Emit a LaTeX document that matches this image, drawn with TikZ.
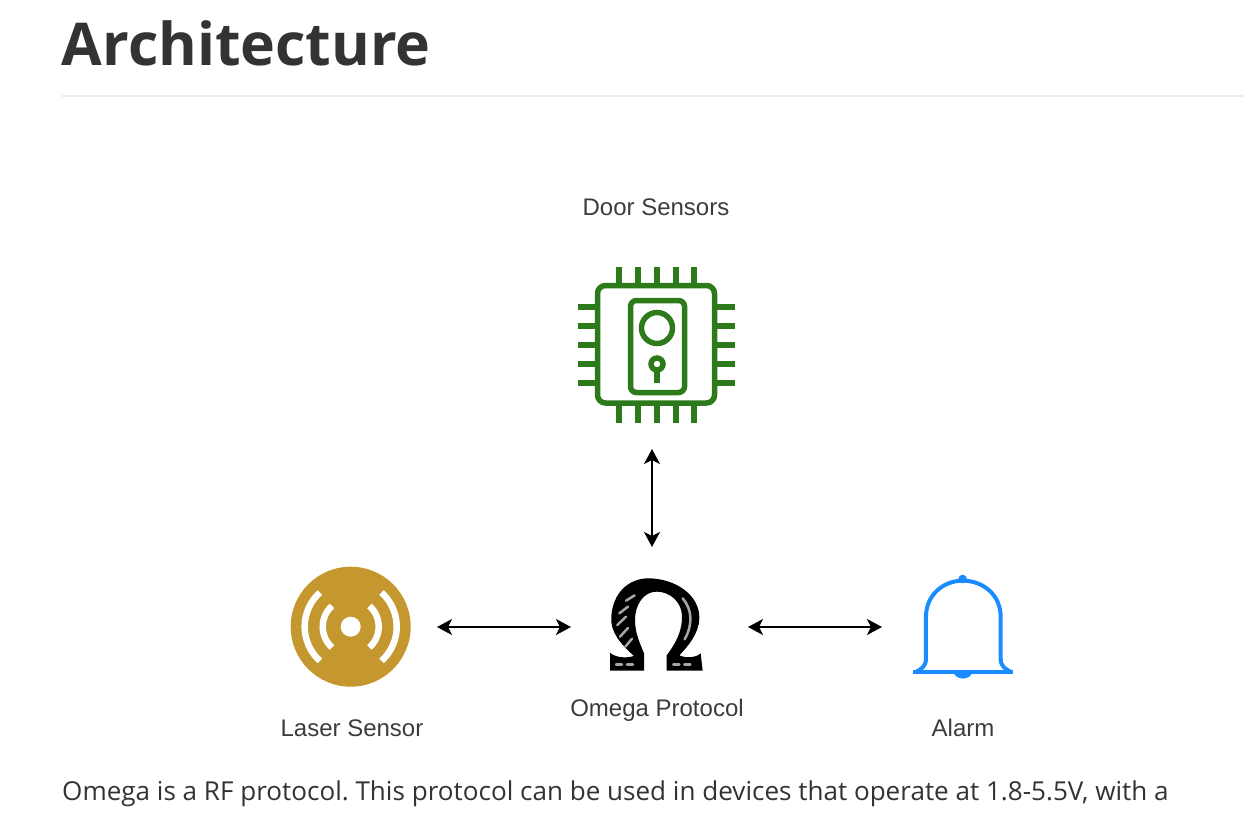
\documentclass[tikz,border=0pt]{standalone}
\usepackage{fontspec}
\setmainfont{Liberation Sans}
\newfontfamily\pagefont{Open Sans}
\usepackage{xcolor}
\usetikzlibrary{arrows.meta}
\definecolor{chipgreen}{HTML}{2D7A1A}
\definecolor{lasergold}{HTML}{C4972F}
\definecolor{bellblue}{HTML}{1A8CFF}
\definecolor{inkgray}{HTML}{333333}
\definecolor{labelgray}{HTML}{3C3C3C}
\definecolor{rulegray}{HTML}{EAECEF}
\frenchspacing

\begin{document}
\begin{tikzpicture}[x=1pt,y=-1pt]
        \useasboundingbox (0,0) rectangle (1256,816);

        % page text
        \node[anchor=base west,inner sep=0pt,text=inkgray,font=\pagefont\bfseries\fontsize{59}{70}\selectfont] (title) at (61.5,66) {Architecture};
        \node[anchor=base west,inner sep=0pt,text=inkgray,font=\pagefont\fontsize{26.07}{32}\selectfont] (para) at (62,800) {Omega is a RF protocol. This protocol can be used in devices that operate at 1.8-5.5V, with a};
        \coordinate (ruleL) at (62,96);
        \coordinate (ruleR) at (1243,96);
        \draw[rulegray,line width=1.5pt] (ruleL) -- (ruleR);

        % icon places, the arrows stop at their borders
        \begin{scope}[every node/.style = {inner sep=0pt,outer sep=0pt}]
            \node[minimum width=160pt,minimum height=208pt] (door) at (652,345) {};
            \node[minimum width=177pt,minimum height=160pt] (omega) at (659.5,627) {};
            \node[minimum width=172pt,minimum height=120pt] (laser) at (351,627) {};
            \node[minimum width=162pt,minimum height=120pt] (alarm) at (963,627) {};
        \end{scope}

        \begin{scope}[every node/.style = {text=labelgray,font=\fontsize{24}{28}\selectfont,inner sep=0pt}]
            \node (doorlabel) at (656,207) {Door Sensors};
            \node (laserlabel) at (352,728) {Laser Sensor};
            \node (omegalabel) at (657,710) {Omega Protocol};
            \node (alarmlabel) at (963,728) {Alarm};
        \end{scope}

        % chip
        \begin{scope}[chipgreen,line width=5.5pt]
            \foreach \p in {619,638,657,676,694} {
                \draw (\p,267) -- (\p,284);
                \draw (\p,405) -- (\p,423);
            }
            \foreach \p in {307,326,345,364,383} {
                \draw (578,\p) -- (596,\p);
                \draw (716,\p) -- (735,\p);
            }
            \draw[rounded corners=8pt] (597.5,285.5) rectangle (714.5,403);
            \draw[rounded corners=6pt] (630.5,300.5) rectangle (684.5,392.5);
            \draw (657,328) circle (15.5);
            \draw (657,364) circle (6);
            \draw (657,370) -- (657,383);
        \end{scope}

        % laser disc
        \fill[lasergold] (350.7,626.7) circle (60);
        \fill[white] (350.7,626.7) circle (10);
        \begin{scope}[white,line width=6.5pt,shift={(350.7,626.7)}]
            \draw (-48:28) arc (-48:48:28);
            \draw (132:28) arc (132:228:28);
            \draw (-48:46) arc (-48:48:46);
            \draw (132:46) arc (132:228:46);
        \end{scope}

        % omega, hand drawn look
        \begin{scope}[shift={(590,560)},x=0.3333pt,y=-0.3333pt]
            \fill[black,even odd rule] (60,332) -- (60,278) .. controls (75,292) and (105,296) .. (132,288)
                .. controls (90,250) and (60,215) .. (64,170)
                .. controls (68,100) and (115,55) .. (175,55)
                .. controls (255,55) and (330,105) .. (328,175)
                .. controls (327,220) and (295,258) .. (268,286)
                .. controls (290,296) and (320,292) .. (332,280) -- (338,332) -- (230,332) -- (230,286)
                .. controls (258,250) and (278,210) .. (276,165)
                .. controls (273,125) and (240,95) .. (200,95)
                .. controls (160,95) and (135,135) .. (135,180)
                .. controls (135,220) and (150,250) .. (162,280) -- (162,332) -- cycle;
            \begin{scope}[black!35,line width=2.5pt,line cap=round]
                \draw (108,122) -- (134,106);
                \draw (88,160) -- (114,140);
                \draw (82,195) -- (108,170);
                \draw (90,230) -- (114,204);
                \draw (106,260) -- (126,236);
                \draw (278,115) .. controls (308,150) and (308,195) .. (284,238);
                \draw[dash pattern=on 6pt off 5pt] (78,313) -- (138,313);
                \draw[dash pattern=on 6pt off 5pt] (250,313) -- (310,313);
            \end{scope}
        \end{scope}

        % bell
        \begin{scope}[shift={(740,560)},x=0.3333pt,y=-0.3333pt,bellblue,line width=4pt,line join=round]
            \fill (668,57) circle (13);
            \fill (640,337) .. controls (650,362) and (688,362) .. (698,337) -- cycle;
            \draw (520,337) -- (820,337);
            \draw (524,337) .. controls (545,328) and (558,318) .. (558,296) -- (558,170)
                .. controls (558,105) and (610,62) .. (668,62)
                .. controls (730,62) and (782,105) .. (782,170) -- (782,296)
                .. controls (782,318) and (795,328) .. (816,337);
        \end{scope}

        \begin{scope}[>={Stealth[black,length=15pt,width=16pt,inset=4pt]},
                every edge/.style={draw=black,line width=1.5pt}]
                \path (door.south) edge[<->] (door.south |- omega.north);
                \path (laser.east) edge[<->] (omega.west);
                \path (omega.east) edge[<->] (alarm.west);
        \end{scope}
    \end{tikzpicture}
\end{document}
